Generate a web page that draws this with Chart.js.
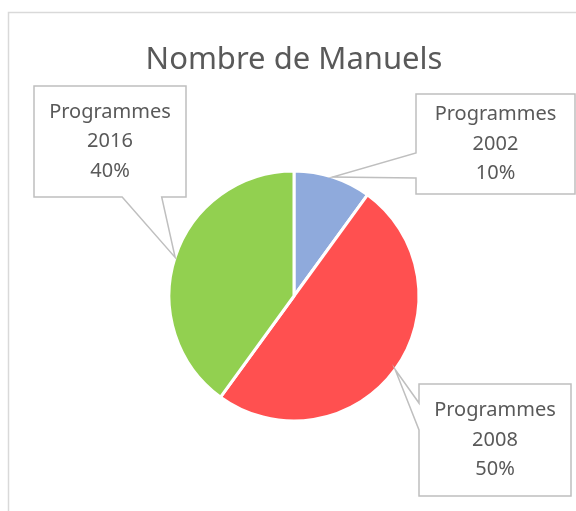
<!DOCTYPE html>
<html>
<head>
<meta charset="utf-8">
<script src="https://cdn.jsdelivr.net/npm/chart.js@4/dist/chart.umd.min.js"></script>
<style>
    html, body { margin: 0; padding: 0; background: #fff; }
    #wrap { width: 576px; height: 511px; position: relative; }
</style>
</head>
<body>
<div id="wrap"><canvas id="pieChart" width="576" height="511"></canvas></div>
<script>
const chartTitle = 'Nombre de Manuels';
const categories = ['Programmes 2002', 'Programmes 2008', 'Programmes 2016'];
const percentages = [10, 50, 40];
const sliceColors = ['#8FAADC', '#FF5050', '#92D050'];

// callout boxes, relative to the pie centre (layout only)
const calloutLayout = [
    { dx: 122, dy: -202, w: 159, h: 100, side: 'left', from: 0.59, to: 0.84 },
    { dx: 125, dy: 88, w: 152, h: 112, side: 'left', from: 0.17, to: 0.41 },
    { dx: -260, dy: -210, w: 152, h: 111, side: 'bottom', from: 0.58, to: 0.84 }
];

const fontFamily = '"Noto Sans", sans-serif';
const labelFont = '20px ' + fontFamily;
const textColor = '#595959';

const frameBorder = {
    id: 'frameBorder',
    beforeDraw(chart) {
        const ctx = chart.ctx;
        ctx.save();
        ctx.strokeStyle = '#D9D9D9';
        ctx.lineWidth = 1.5;
        ctx.strokeRect(8.5, 12.5, 620, 560);
        ctx.restore();
    }
};

function calloutPath(ctx, box, tip, lay) {
    const l = box.x, t = box.y, r = box.x + box.w, b = box.y + box.h;
    ctx.beginPath();
    if (lay.side === 'bottom') {
        ctx.moveTo(l, t);
        ctx.lineTo(r, t);
        ctx.lineTo(r, b);
        ctx.lineTo(l + box.w * lay.to, b);
        ctx.lineTo(tip.x, tip.y);
        ctx.lineTo(l + box.w * lay.from, b);
        ctx.lineTo(l, b);
    } else {
        ctx.moveTo(l, t);
        ctx.lineTo(r, t);
        ctx.lineTo(r, b);
        ctx.lineTo(l, b);
        ctx.lineTo(l, t + box.h * lay.to);
        ctx.lineTo(tip.x, tip.y);
        ctx.lineTo(l, t + box.h * lay.from);
    }
    ctx.closePath();
}

const callouts = {
    id: 'callouts',
    afterDatasetsDraw(chart) {
        const ctx = chart.ctx;
        const arcs = chart.getDatasetMeta(0).data;
        ctx.save();
        arcs.forEach((arc, i) => {
            const lay = calloutLayout[i];
            const mid = (arc.startAngle + arc.endAngle) / 2;
            const tip = {
                x: arc.x + Math.cos(mid) * arc.outerRadius,
                y: arc.y + Math.sin(mid) * arc.outerRadius
            };
            const box = { x: arc.x + lay.dx, y: arc.y + lay.dy, w: lay.w, h: lay.h };
            calloutPath(ctx, box, tip, lay);
            ctx.fillStyle = '#fff';
            ctx.fill();
            ctx.strokeStyle = '#BFBFBF';
            ctx.lineWidth = 1.5;
            ctx.stroke();

            const words = categories[i].split(' ');
            const lines = [words[0], words[1], percentages[i] + '%'];
            ctx.fillStyle = textColor;
            ctx.font = labelFont;
            ctx.textAlign = 'center';
            ctx.textBaseline = 'middle';
            const cx = box.x + box.w / 2;
            const cy = box.y + box.h / 2;
            lines.forEach((txt, k) => {
                ctx.fillText(txt, cx, cy + (k - 1) * 29.5);
            });
        });
        ctx.restore();
    }
};

const ctx = document.getElementById('pieChart').getContext('2d');
const chart = new Chart(ctx, {
    type: 'pie',
    data: {
        labels: categories,
        datasets: [{
            data: percentages,
            backgroundColor: sliceColors,
            borderColor: '#ffffff',
            borderWidth: 3
        }]
    },
    options: {
        responsive: false,
        animation: false,
        layout: {
            padding: { top: 12, left: 12, right: 0, bottom: 88.5 }
        },
        plugins: {
            legend: { display: false },
            tooltip: { enabled: false },
            title: {
                display: true,
                text: chartTitle,
                color: textColor,
                font: { family: fontFamily, size: 31, weight: 'normal' },
                padding: { top: 29.4, bottom: 90.9 }
            }
        }
    },
    plugins: [frameBorder, callouts]
});
</script>
</body>
</html>
